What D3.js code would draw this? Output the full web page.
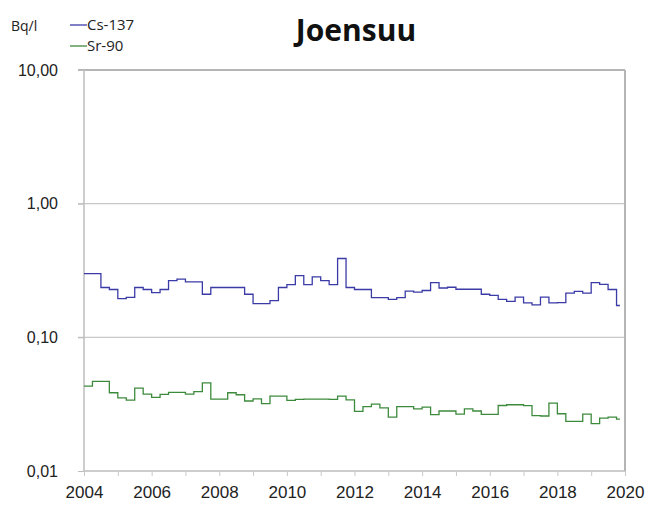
<!DOCTYPE html>
<html lang="fi">
<head>
<meta charset="UTF-8">
<title>Joensuu</title>
<script src="https://d3js.org/d3.v7.min.js"></script>
<style>
    body { margin: 0; background: #fff; font-family: "Open Sans", "Noto Sans", sans-serif; }
    .tick text { fill: #222; }
    .domain { stroke: #bdbdbd; }
</style>
</head>
<body>
<svg id="chart" width="656" height="506"></svg>
<script>
    // Quarterly step values (start year of each step)
    const csYears = [2004.0, 2004.5, 2004.75, 2005.0, 2005.25, 2005.5, 2005.75, 2006.0, 2006.25, 2006.5,
        2006.75, 2007.0, 2007.5, 2007.75, 2008.75, 2009.0, 2009.5, 2009.75, 2010.0, 2010.25,
        2010.5, 2010.75, 2011.0, 2011.25, 2011.5, 2011.75, 2012.0, 2012.5, 2013.0, 2013.25,
        2013.5, 2013.75, 2014.0, 2014.25, 2014.5, 2014.75, 2015.0, 2015.75, 2016.0, 2016.25,
        2016.5, 2016.75, 2017.0, 2017.25, 2017.5, 2017.75, 2018.0, 2018.25, 2018.5, 2018.75,
        2019.0, 2019.25, 2019.5, 2019.75];
    const csValues = [0.300, 0.236, 0.228, 0.195, 0.199, 0.236, 0.228, 0.216, 0.228, 0.266,
        0.273, 0.260, 0.210, 0.236, 0.210, 0.179, 0.188, 0.236, 0.248, 0.290,
        0.248, 0.283, 0.266, 0.248, 0.389, 0.236, 0.228, 0.198, 0.192, 0.198,
        0.222, 0.218, 0.224, 0.257, 0.234, 0.237, 0.229, 0.210, 0.206, 0.192,
        0.186, 0.200, 0.181, 0.175, 0.200, 0.181, 0.182, 0.214, 0.221, 0.214,
        0.257, 0.249, 0.228, 0.173];

    const srYears = [2004.0, 2004.25, 2004.75, 2005.0, 2005.25, 2005.5, 2005.75, 2006.0, 2006.25, 2006.5,
        2007.0, 2007.25, 2007.5, 2007.75, 2008.25, 2008.5, 2008.75, 2009.0, 2009.25, 2009.5,
        2010.0, 2010.25, 2010.5, 2010.75, 2011.0, 2011.25, 2011.5, 2011.75, 2012.0, 2012.25,
        2012.5, 2012.75, 2013.0, 2013.25, 2013.75, 2014.0, 2014.25, 2014.5, 2015.0, 2015.25,
        2015.5, 2015.75, 2016.25, 2016.5, 2017.0, 2017.25, 2017.5, 2017.75, 2018.0, 2018.25,
        2018.75, 2019.0, 2019.25, 2019.5, 2019.75];
    const srValues = [0.0432, 0.0468, 0.0385, 0.0353, 0.0339, 0.0417, 0.0376, 0.0355, 0.0374, 0.0387,
        0.0376, 0.0392, 0.0457, 0.0345, 0.0385, 0.0372, 0.0334, 0.0347, 0.0319, 0.0363,
        0.0337, 0.0343, 0.0345, 0.0345, 0.0345, 0.0343, 0.0363, 0.0341, 0.0279, 0.0303,
        0.0316, 0.0297, 0.0253, 0.0303, 0.0292, 0.0301, 0.0264, 0.0281, 0.0266, 0.0292,
        0.0281, 0.0265, 0.0309, 0.0313, 0.0308, 0.0260, 0.0258, 0.0322, 0.0268, 0.0235,
        0.0266, 0.0226, 0.0249, 0.0253, 0.0244];

    const lastYear = 2019.85;
    const yTicks = [0.01, 0.1, 1, 10];
    const yTickLabels = ['0,01', '0,10', '1,00', '10,00'];
    const xTicks = d3.range(2004, 2021, 1);
    const xTickLabels = ['2004', '2006', '2008', '2010', '2012', '2014', '2016', '2018', '2020'];

    const svg = d3.select('#chart');
    const margin = { top: 70, right: 31, bottom: 35, left: 84 };
    const width = 656 - margin.left - margin.right;
    const height = 506 - margin.top - margin.bottom;

    const x = d3.scaleLinear().domain([2004, 2020]).range([0, width]);
    const y = d3.scaleLog().domain([0.01, 10]).range([height, 0]);

    const g = svg.append('g').attr('transform', `translate(${margin.left},${margin.top})`);

    // Gridlines
    g.append('g')
        .selectAll('line')
        .data(yTicks.filter(d => d > 0.01))
        .enter().append('line')
        .attr('x1', -6).attr('x2', width)
        .attr('y1', d => y(d)).attr('y2', d => y(d))
        .attr('stroke', d => d === 10 ? '#b5b5b5' : '#c8c8c8')
        .attr('stroke-width', d => d === 10 ? 2 : 1.3);

    // Right border
    g.append('line')
        .attr('x1', width).attr('x2', width)
        .attr('y1', 0).attr('y2', height)
        .attr('stroke', '#b5b5b5').attr('stroke-width', 2);

    // Y axis
    const yAxis = g.append('g')
        .call(d3.axisLeft(y).tickValues(yTicks).tickSize(6).tickPadding(20)
            .tickFormat((d, i) => yTickLabels[i]));
    yAxis.selectAll('.tick line').attr('stroke', '#bdbdbd');
    yAxis.selectAll('.tick text').attr('font-size', '16px');
    yAxis.select('.domain').attr('stroke-width', 1.5).attr('d', `M0,0V${height}`);

    // X axis
    const xAxis = g.append('g')
        .attr('transform', `translate(0,${height})`)
        .call(d3.axisBottom(x).tickValues(xTicks).tickSize(5).tickPadding(10)
            .tickFormat(d => xTickLabels.includes(String(d)) ? String(d) : ''));
    xAxis.selectAll('.tick line').attr('stroke', '#c8c8c8');
    xAxis.select('.domain').attr('stroke-width', 1.3).attr('d', `M0,0H${width}`);
    xAxis.selectAll('.tick text').attr('font-size', '17px');

    // Step lines
    const line = d3.line()
        .x(d => x(d[0]))
        .y(d => y(d[1]))
        .curve(d3.curveStepAfter);

    function steps(years, values) {
        const pts = years.map((yr, i) => [yr, values[i]]);
        pts.push([lastYear, values[values.length - 1]]);
        return pts;
    }

    g.append('path')
        .datum(steps(csYears, csValues))
        .attr('d', line)
        .attr('fill', 'none')
        .attr('stroke', '#3b3ba8')
        .attr('stroke-width', 1.3);

    g.append('path')
        .datum(steps(srYears, srValues))
        .attr('d', line)
        .attr('fill', 'none')
        .attr('stroke', '#3c8a3c')
        .attr('stroke-width', 1.3);

    // Title, unit, legend
    svg.append('text')
        .attr('x', 356).attr('y', 41)
        .attr('text-anchor', 'middle')
        .attr('font-size', '30px')
        .attr('font-weight', 'bold')
        .attr('fill', '#111')
        .text('Joensuu');

    svg.append('text')
        .attr('x', 11).attr('y', 31)
        .attr('font-size', '14px')
        .attr('fill', '#222')
        .text('Bq/l');

    const legend = [
        { label: 'Cs-137', color: '#3b3ba8', y: 25 },
        { label: 'Sr-90', color: '#3c8a3c', y: 46 }
    ];
    const lg = svg.append('g').selectAll('g').data(legend).enter().append('g');
    lg.append('line')
        .attr('x1', 70).attr('x2', 87)
        .attr('y1', d => d.y).attr('y2', d => d.y)
        .attr('stroke', d => d.color).attr('stroke-width', 1.3);
    lg.append('text')
        .attr('x', 87).attr('y', d => d.y + 5)
        .attr('font-size', '15px')
        .attr('fill', '#222')
        .text(d => d.label);
</script>
</body>
</html>
